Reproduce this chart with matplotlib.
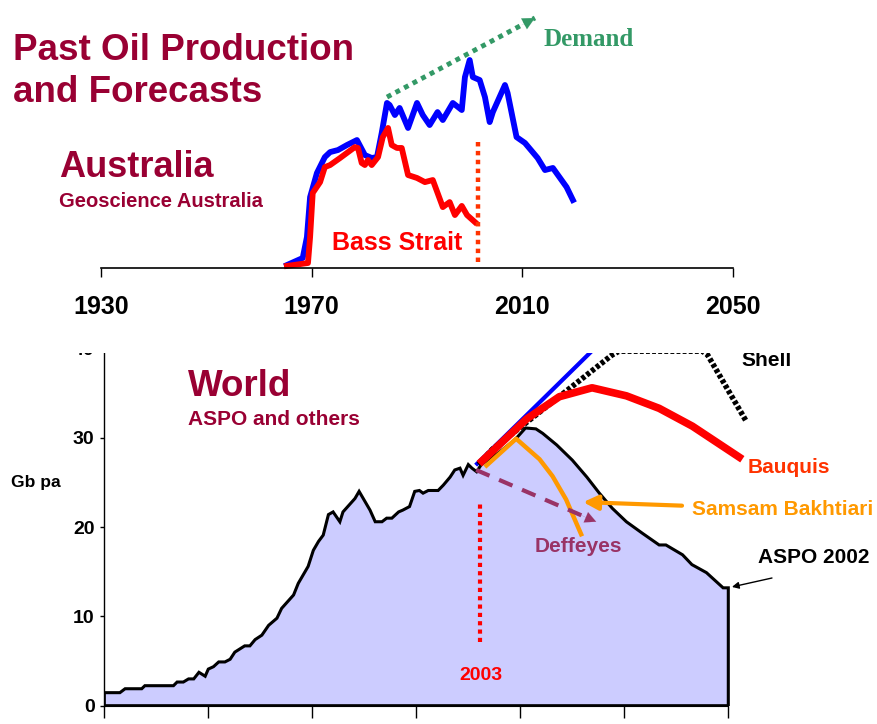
import matplotlib
matplotlib.use("Agg")
import matplotlib.pyplot as plt
from matplotlib.patches import Rectangle

plt.rcParams['font.family'] = ['Liberation Sans', 'DejaVu Sans']
plt.rcParams['font.weight'] = 'bold'

W, H = 877, 724

# ---- Australia (arbitrary production units) ----
aus_years = [1965.3, 1968.3, 1969.1, 1969.7, 1971.0, 1972.5, 1973.5, 1975.0, 1976.7, 1978.6,
             1979.1, 1980.1, 1981.4, 1982.4, 1983.3, 1984.3, 1984.8, 1985.8, 1986.7, 1988.3,
             1990.0, 1991.1, 1992.4, 1993.9, 1994.9, 1996.8, 1998.5, 1999.1, 2000.0, 2000.6,
             2001.9, 2002.9, 2003.8, 2004.4, 2006.7, 2007.2, 2008.9, 2010.5, 2012.9, 2014.3,
             2015.8, 2018.4, 2019.6]
aus_total = [10, 34, 105, 241, 323, 377, 394, 401, 418, 435,
             418, 384, 374, 377, 459, 561, 554, 520, 544, 476,
             561, 520, 486, 530, 503, 561, 537, 649, 707, 649,
             639, 581, 496, 530, 622, 595, 445, 425, 374, 333,
             340, 275, 231]

bass_years = [1965.3, 1969.3, 1969.7, 1970.2, 1971.6, 1972.5, 1973.5, 1975.4, 1978.2, 1978.8,
              1979.5, 1980.1, 1980.7, 1981.4, 1982.6, 1983.5, 1984.5, 1985.2, 1986.2, 1987.1,
              1988.3, 1990.0, 1991.5, 1993.0, 1994.9, 1996.2, 1997.2, 1998.5, 1999.5, 2001.0]
bass_vals = [7, 17, 105, 255, 292, 343, 350, 374, 411, 408,
             357, 350, 367, 350, 377, 445, 476, 418, 408, 408,
             316, 306, 292, 299, 207, 224, 180, 211, 180, 156]

demand_years = [1984.3, 2012.4]
demand_vals = [581, 850]

aus_ticks = [1930, 1970, 2010, 2050]

# ---- World (Gb per year) ----
hist_years = [1930, 1933, 1934, 1937.2, 1937.8, 1943.3, 1944, 1945.2, 1946.2, 1947.2,
              1948.2, 1949.4, 1950, 1951, 1952, 1953.2, 1954.2, 1955.1, 1957, 1958,
              1959, 1960.3, 1961.6, 1963.2, 1964.1, 1966.4, 1967.3, 1969.2, 1970.2, 1971.2,
              1972.1, 1973.1, 1974, 1975.3, 1975.9, 1978.2, 1979, 1981.1, 1982.1, 1983.4,
              1984.3, 1985.3, 1986.6, 1987.4, 1988.7, 1989.7, 1990.6, 1991.3, 1992.3, 1994.2,
              1995.2, 1996.5, 1997.4, 1998.4, 1999, 2000, 2000.7, 2001.6]
hist_vals = [1.46, 1.46, 1.9, 1.9, 2.24, 2.24, 2.65, 2.65, 3.0, 3.0,
             3.74, 3.3, 4.1, 4.37, 4.9, 4.9, 5.2, 6.0, 6.7, 6.7,
             7.4, 7.9, 9.0, 9.8, 10.9, 12.4, 13.7, 15.6, 17.4, 18.4,
             19.1, 21.4, 21.7, 20.6, 21.7, 23.2, 24.0, 21.9, 20.6, 20.6,
             21.0, 21.0, 21.7, 21.9, 22.3, 24.0, 24.1, 23.8, 24.1, 24.1,
             24.7, 25.6, 26.4, 26.6, 25.8, 27.0, 26.6, 26.2]

aspo_years = [2002.5, 2004, 2006, 2009, 2011, 2013, 2014.3, 2017, 2020, 2022.8,
              2025.2, 2027.7, 2030.4, 2033.5, 2036.7, 2038, 2041.2, 2043, 2045.8, 2049, 2050]
aspo_vals = [27.0, 27.6, 28.4, 29.8, 31.1, 31.0, 30.5, 29.2, 27.5, 25.6,
             23.8, 22.1, 20.6, 19.3, 18.0, 18.0, 16.9, 15.8, 14.9, 13.2, 13.2]

blue_years = [2001.7, 2026]
blue_vals = [27.1, 41.0]

shell_years = [2002, 2004.6, 2027.7, 2029, 2045, 2046, 2053.5]
shell_vals = [27.0, 28.7, 39.3, 39.7, 39.7, 39.3, 31.8]

bauquis_years = [2002.1, 2011.2, 2017.5, 2023.8, 2030.4, 2036.7, 2043.1, 2052.7]
bauquis_vals = [27.1, 32.1, 34.6, 35.6, 34.7, 33.3, 31.3, 27.6]

samsam_years = [2003.5, 2009.2, 2013.7, 2016.2, 2018.8, 2021.7]
samsam_vals = [26.9, 29.9, 27.6, 25.7, 23.1, 19.2]

deffeyes_years = [2001.5, 2024.6]
deffeyes_vals = [26.4, 20.6]

world_xticks = [1930, 1950, 1970, 1990, 2010, 2030, 2050]
world_yticks = [0, 10, 20, 30, 40]

maroon = '#990033'


def px_box(left, top, right, bottom):
    return [left / W, 1 - bottom / H, (right - left) / W, (bottom - top) / H]


fig = plt.figure(figsize=(W / 100, H / 100), dpi=100)

# ---------------- top chart ----------------
ax1 = fig.add_axes(px_box(101, 0, 733, 268))
ax1.set_xlim(1930, 2050)
ax1.set_ylim(0, 911)
for s in ['top', 'left', 'right']:
    ax1.spines[s].set_visible(False)
ax1.spines['bottom'].set_linewidth(1.2)
ax1.set_yticks([])
ax1.set_xticks(aus_ticks)
ax1.tick_params(axis='x', direction='out', length=6.5, width=1, pad=13, labelsize=18)
for lab in ax1.get_xticklabels():
    lab.set_fontweight('bold')

ax1.plot(aus_years, aus_total, color='#0000ff', lw=4.2, solid_joinstyle='round', clip_on=False)
ax1.plot(bass_years, bass_vals, color='#ff0000', lw=4.2, solid_joinstyle='round', clip_on=False)
ax1.plot([2001.5, 2001.5], [20, 440], color='#ff3300', lw=3.2, linestyle=(0, (1, 1)))
ax1.plot(demand_years, demand_vals, color='#339966', lw=3.5, linestyle=(0, (1, 1)))
ax1.annotate('', xy=(demand_years[1], demand_vals[1]),
             xytext=(demand_years[1] - 2.5, demand_vals[1] - 24),
             arrowprops=dict(arrowstyle='-|>', color='#339966', lw=0.1, mutation_scale=22,
                             shrinkA=0, shrinkB=0))
ax1.text(1986.3, 61, 'Bass Strait', color='#ff0000', fontsize=18, fontweight='bold',
         ha='center', va='baseline')

fig.text(13 / W, 1 - 60 / H, 'Past Oil Production', color=maroon, fontsize=26.5,
         fontweight='bold', va='baseline')
fig.text(13 / W, 1 - 102 / H, 'and Forecasts', color=maroon, fontsize=26.5,
         fontweight='bold', va='baseline')
fig.text(59 / W, 1 - 177 / H, 'Australia', color=maroon, fontsize=26,
         fontweight='bold', va='baseline')
fig.text(59 / W, 1 - 207 / H, 'Geoscience Australia', color=maroon, fontsize=14.5,
         fontweight='bold', va='baseline')
fig.text(543 / W, 1 - 46 / H, 'Demand', color='#339966', fontsize=18,
         fontweight='bold', va='baseline', family=['Liberation Serif', 'DejaVu Serif'])

# ---------------- bottom chart ----------------
y0 = 705.7
ppu = 8.93
ax2 = fig.add_axes(px_box(104.3, y0 - 40.5 * ppu, 104.3 + 130 * 5.2, y0))
ax2.set_xlim(1930, 2060)
ax2.set_ylim(0, 40.5)
for s in ['top', 'right']:
    ax2.spines[s].set_visible(False)
ax2.spines['bottom'].set_bounds(1930, 2050)
ax2.spines['left'].set_linewidth(1)
ax2.set_xticks(world_xticks)
ax2.set_xticklabels([])
ax2.set_yticks(world_yticks)
ax2.tick_params(axis='x', direction='out', length=8.5, width=1)
ax2.tick_params(axis='y', direction='out', length=3, width=1, pad=4, labelsize=14)
for lab in ax2.get_yticklabels():
    lab.set_fontweight('bold')

poly_x = [1930] + hist_years + aspo_years + [2050, 1930]
poly_y = [0] + hist_vals + aspo_vals + [0, 0]
ax2.fill(poly_x, poly_y, facecolor='#ccccff', edgecolor='black', lw=2.2, zorder=2)

ax2.plot(blue_years, blue_vals, color='#0000ff', lw=3, zorder=3)
ax2.plot(shell_years, shell_vals, color='black', lw=4, linestyle=(0, (0.7, 0.4)), zorder=3,
         clip_on=False)
ax2.plot(bauquis_years, bauquis_vals, color='#ff0000', lw=5.5, solid_capstyle='butt', zorder=4,
         clip_on=False)
ax2.plot(samsam_years, samsam_vals, color='#ff9900', lw=3.2, zorder=5)
ax2.plot([deffeyes_years[0], deffeyes_years[1] - 2.5], [deffeyes_vals[0], deffeyes_vals[1] + 0.63],
         color='#993366', lw=3, linestyle=(0, (3.5, 2.5)), zorder=5)
ax2.annotate('', xy=(deffeyes_years[1], deffeyes_vals[1]),
             xytext=(deffeyes_years[1] - 3, deffeyes_vals[1] + 0.75),
             arrowprops=dict(arrowstyle='-|>', color='#993366', lw=0.1, mutation_scale=20,
                             shrinkA=0, shrinkB=0), zorder=5)
ax2.plot([2002.2, 2002.2], [7.1, 22.8], color='#ff0000', lw=3, linestyle=(0, (1, 1)), zorder=5)

ax2.annotate('', xy=(2022.1, 22.8), xytext=(2041.1, 22.4),
             arrowprops=dict(arrowstyle='-|>', color='#ff9900', lw=3, mutation_scale=22,
                             shrinkA=0, shrinkB=0), zorder=6)
ax2.annotate('', xy=(2050.7, 13.3), xytext=(2058.4, 14.3),
             arrowprops=dict(arrowstyle='-|>', color='black', lw=1, mutation_scale=10,
                             shrinkA=0, shrinkB=0), annotation_clip=False, zorder=6)

ax2.text(2002.5, 2.9, '2003', color='#ff0000', fontsize=14, fontweight='bold',
         ha='center', va='baseline', family=['Liberation Sans Narrow', 'Liberation Sans'])
ax2.text(2012.8, 17.2, 'Deffeyes', color='#993366', fontsize=15, fontweight='bold',
         va='baseline')
ax2.text(2053.8, 26.1, 'Bauquis', color='#ff3300', fontsize=15, fontweight='bold',
         va='baseline', clip_on=False)
ax2.text(2043.1, 21.3, 'Samsam Bakhtiari', color='#ff9900', fontsize=15, fontweight='bold',
         va='baseline', clip_on=False)
ax2.text(2055.7, 16.0, 'ASPO 2002', color='black', fontsize=15, fontweight='bold',
         va='baseline', clip_on=False)
ax2.text(2052.6, 38.0, 'Shell', color='black', fontsize=15, fontweight='bold',
         va='baseline', clip_on=False)

fig.text(188 / W, 1 - 396 / H, 'World', color=maroon, fontsize=26.5,
         fontweight='bold', va='baseline')
fig.text(188 / W, 1 - 425 / H, 'ASPO and others', color=maroon, fontsize=15,
         fontweight='bold', va='baseline')
fig.text(11 / W, 1 - 487 / H, 'Gb pa', color='black', fontsize=12.5, fontweight='bold',
         va='baseline', family=['Liberation Sans Narrow', 'Liberation Sans'])

# the upper edge of the world panel is hidden, as in the source slide
fig.patches.append(Rectangle((0, 1 - 353 / H), 1, 33 / H, transform=fig.transFigure,
                             facecolor='white', edgecolor='none', zorder=10))

fig.savefig('out.png', dpi=100)
